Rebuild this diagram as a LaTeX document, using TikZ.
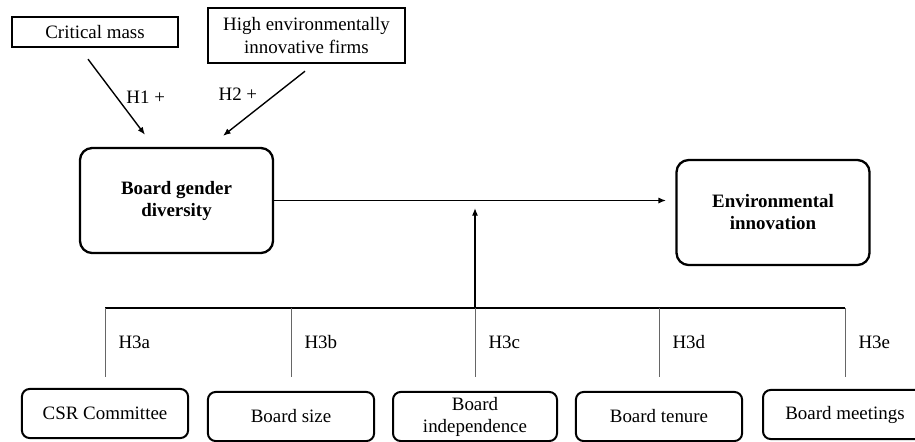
\documentclass[tikz,border=0pt]{standalone}
\usepackage{fontspec}
\setmainfont{Liberation Serif}
\usetikzlibrary{arrows.meta,positioning,calc}

\begin{document}
\begin{tikzpicture}[x=0.65pt, y=-0.65pt,
    every node/.style={font=\fontsize{12.3}{14.5}\selectfont},
    sqbox/.style={draw, line width=1.5pt, inner sep=0pt, align=center},
    keybox/.style={draw, line width=1.5pt, rounded corners=8pt, minimum width=125.5pt, minimum height=68.3pt, align=center, font=\fontsize{12.3}{14.3}\selectfont\bfseries},
    modbox/.style={draw, line width=1.3pt, rounded corners=5pt, minimum width=108pt, minimum height=31.9pt, inner sep=0pt, align=center, font=\fontsize{12.3}{14.3}\selectfont},
    link/.style={line width=0.9pt, -{Latex[length=5pt,width=4pt]}},
    hyp/.style={inner sep=0pt, text=black}]
    \useasboundingbox (0,0) rectangle (915,441);
    \clip (0,0) rectangle (915,441);

    % Antecedents
    \node[sqbox, minimum width=108pt, minimum height=19.5pt] (cm) at (95,32) {Critical mass};
    \node[sqbox, minimum width=128pt, minimum height=35.8pt] (hef) at (306.5,35.5) {High environmentally\\innovative firms};

    % Main constructs
    \node[keybox] (bgd) at (176.5,200.5) {Board gender\\diversity};
    \node[keybox] (ei) at (773,212.5) {Environmental\\innovation};

    % Moderators
    \node[modbox] (csr) at (105,413.5) {CSR Committee};
    \node[modbox] (bs) at (291,416.5) {Board size};
    \node[modbox, minimum width=106.6pt] (bi) at (475,416.5) {Board\\independence};
    \node[modbox] (bt) at (659,416.5) {Board tenure};
    \node[modbox, minimum width=106.6pt] (bm) at (845,414.5) {Board meetings};

    % H1 and H2
    \draw[link] ([shift={(-7,11)}]cm.south) -- node[hyp, midway, right=6pt] {H1 +} ([shift={(-31.5,-12)}]bgd.north);
    \draw[link] ([shift={(-1.5,7)}]hef.south) -- node[hyp, midway, anchor=south east, xshift=-4pt, yshift=1.5pt] {H2 +} ([shift={(46.5,-11)}]bgd.north);

    % Direct effect
    \draw[link] (bgd.east) -- ([xshift=-6pt]bgd.east -| ei.west);

    % Moderating effects
    \coordinate (bar) at (475,308);
    \draw[line width=0.9pt] (csr.north |- bar) -- (bm.north |- bar);
    \draw[link] (bar) -- ++(0,-100);
    \foreach \b/\h in {csr/a, bs/b, bi/c, bt/d, bm/e}
        \draw[gray!80!black, line width=0.6pt] (\b.north |- bar) -- ++(0,69)
            node[hyp, midway, right=8.5pt] {H3\h};
\end{tikzpicture}
\end{document}
